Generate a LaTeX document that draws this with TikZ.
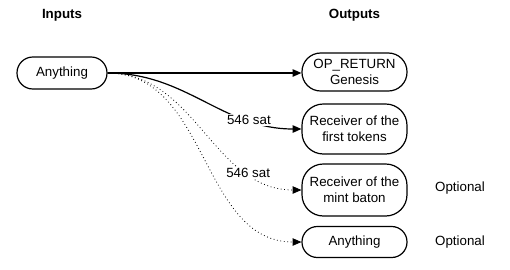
\documentclass[tikz,border=0pt]{standalone}
\usepackage{fontspec}
\setmainfont{Liberation Sans}
\usetikzlibrary{arrows.meta,positioning}

\tikzset{
  termbox/.style={draw, line width=0.9pt, rounded corners=11pt, align=center,
    inner sep=1pt, minimum width=78.75pt},
  satlabel/.style={fill=white, inner sep=1pt},
  spend/.style={->, line width=0.9pt},
  maybe/.style={->, dotted, line width=0.6pt}
}

\begin{document}
\begin{tikzpicture}[x=0.75pt, y=-0.75pt, >={Triangle[length=6.5pt,width=5.5pt]}, font=\fontsize{10}{12}\selectfont]
  \useasboundingbox (0,0) rectangle (510,269);
  %% Column titles
  \node[font=\bfseries] (inhead) at (62,15) {Inputs};
  \node[font=\bfseries] (outhead) at (354.5,15) {Outputs};
  %% Input
  \node[termbox, rounded corners=11.9pt, minimum width=67.5pt, minimum height=24pt] (input) at (62,73) {Anything};
  %% Outputs
  \node[termbox, rounded corners=14pt, minimum height=28.5pt] (opret) at (354.5,72) {OP\_RETURN\\Genesis};
  \node[termbox, rounded corners=16pt, minimum height=37.5pt] (first) at (354.5,129) {Receiver of the\\first tokens};
  \node[termbox, rounded corners=16pt, minimum height=39pt] (baton) at (354.5,190) {Receiver of the\\mint baton};
  \node[termbox, rounded corners=11.5pt, minimum height=23.25pt] (extra) at (354.5,242) {Anything};
  \node (optbaton) at (460,188) {Optional};
  \node (optextra) at (460,242) {Optional};
  %% Connectors
  \draw[spend] (input.east) -- (input.east -| opret.west);
  \draw[spend] (input.east) to[out=0, in=180] node[satlabel, pos=0.75] {546 sat} (first.west);
  \draw[maybe] (input.east) to[out=0, in=180] node[satlabel, pos=0.76] {546 sat} (baton.west);
  \draw[maybe] (input.east) to[out=0, in=180] (extra.west);
\end{tikzpicture}
\end{document}
